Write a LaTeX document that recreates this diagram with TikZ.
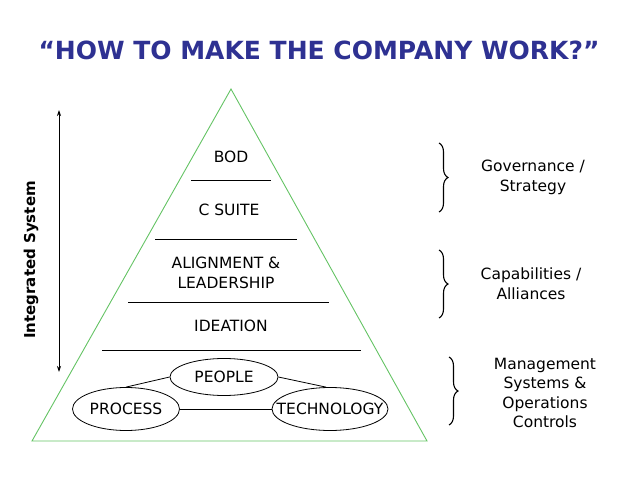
\documentclass[tikz,border=0pt]{standalone}
\usepackage{fontspec}
\setmainfont{DejaVu Sans}
\usetikzlibrary{shapes.geometric,decorations.pathreplacing,arrows.meta}
\definecolor{titleblue}{RGB}{46,49,146}
\definecolor{pyrgreen}{RGB}{100,195,100}
\tikzset{
  label/.style={font=\fontsize{15.5}{20}\selectfont, align=center, inner sep=0pt},
  oval/.style={ellipse, draw, line width=0.8pt, inner sep=0pt},
  layer/.style={line width=0.8pt},
  bracket/.style={decorate, decoration={brace, amplitude=9pt, aspect=0.5}, line width=1.1pt}
}
\begin{document}
\begin{tikzpicture}[x=1pt,y=-1pt]
      \useasboundingbox (0,0) rectangle (638,479);
      \node[font=\bfseries\fontsize{25}{30}\selectfont, text=titleblue] (title) at (319,50)
        {“HOW TO MAKE THE COMPANY WORK?”};
      % pyramid
      \coordinate (top) at (231,89);
      \coordinate (bl) at (32,441);
      \coordinate (br) at (427,441);
      \draw[pyrgreen, line width=0.9pt] (top) -- (bl) -- (br) -- cycle;
      \draw[layer] (191,180) -- (271,180);
      \draw[layer] (155,239) -- (297,239);
      \draw[layer] (128,302) -- (329,302);
      \draw[layer] (102,350) -- (361,350);
      \node[label] (bod) at (231,157) {BOD};
      \node[label] (csuite) at (229,210) {C SUITE};
      \node[label] (align) at (226,273) {ALIGNMENT \&\\LEADERSHIP};
      \node[label] (ideation) at (231,326) {IDEATION};
      % base ovals
      \node[oval, minimum width=108pt, minimum height=37pt] (people) at (224,377) {};
      \node[oval, minimum width=107pt, minimum height=43pt] (process) at (126,409) {};
      \node[oval, minimum width=116pt, minimum height=43pt] (tech) at (330,409) {};
      \node[label] (peopletext) at (people) {PEOPLE};
      \node[label] (processtext) at (process) {PROCESS};
      \node[label] (techtext) at (tech) {TECHNOLOGY};
      \begin{scope}[line width=0.8pt]
        \draw (people.west) -- (process.north);
        \draw (people.east) -- (tech.100);
        \draw (process.east) -- (tech.west);
      \end{scope}
      % side arrow
      \coordinate (up) at (59,110);
      \coordinate (down) at (59,372);
      \draw[line width=0.8pt, {Stealth[length=6pt,width=4pt]}-{Stealth[length=6pt,width=4pt]}] (up) -- (down);
      \node[font=\bfseries\fontsize{15}{16}\selectfont, rotate=90] (integ) at (31,260) {Integrated System};
      % braces
      \coordinate (b1t) at (439,143);
      \coordinate (b1b) at (439,212);
      \coordinate (b2t) at (439,250);
      \coordinate (b2b) at (439,318);
      \coordinate (b3t) at (449,357);
      \coordinate (b3b) at (449,425);
      \draw[bracket] (b1t) -- (b1b);
      \draw[bracket] (b2t) -- (b2b);
      \draw[bracket] (b3t) -- (b3b);
      \node[label] (gov) at (533,177) {Governance /\\Strategy};
      \node[label] (cap) at (531,284) {Capabilities /\\Alliances};
      \node[label, font=\fontsize{15.5}{19.5}\selectfont] (mgmt) at (545,393) {Management\\Systems \&\\Operations\\Controls};
    \end{tikzpicture}
\end{document}
